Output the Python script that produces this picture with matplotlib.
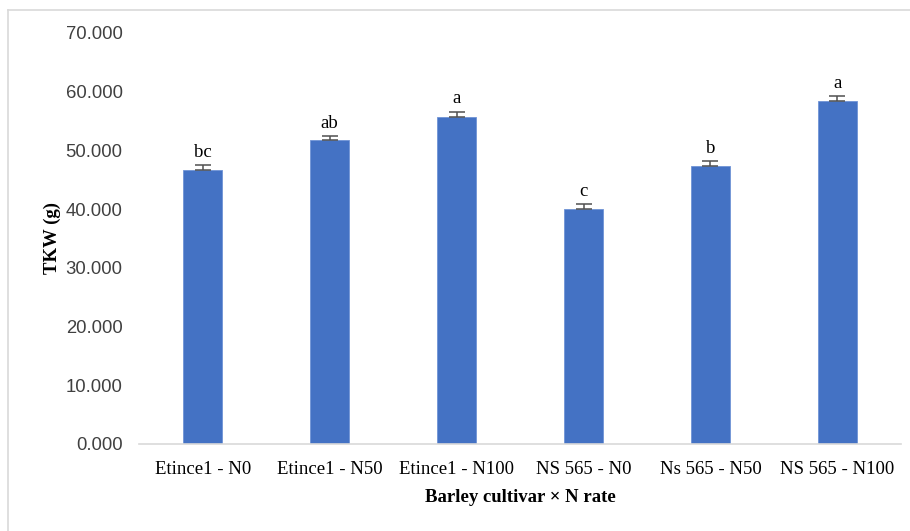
import matplotlib
matplotlib.use("Agg")
import matplotlib.pyplot as plt
from matplotlib.lines import Line2D

categories = ["Etince1 - N0", "Etince1 - N50", "Etince1 - N100",
              "NS 565 - N0", "Ns 565 - N50", "NS 565 - N100"]
tkw = [46.6, 51.7, 55.7, 40.0, 47.4, 58.4]
tkw_err = [0.9, 0.7, 0.9, 0.8, 0.8, 0.9]
letters = ["bc", "ab", "a", "c", "b", "a"]
yticks = [0, 10, 20, 30, 40, 50, 60, 70]

fig = plt.figure(figsize=(9.1, 5.31), dpi=100)
ax = fig.add_axes([0.153, 0.164, 0.837, 0.774])

serif = "Liberation Serif"
x = list(range(len(categories)))
ax.bar(x, tkw, width=0.31, color="#4472C4", edgecolor="#6F93D6", linewidth=0.6, zorder=2)
ax.errorbar(x, tkw, yerr=[[0]*len(tkw), tkw_err], fmt="none", ecolor="#505050",
            elinewidth=1.1, capsize=5.5, capthick=1.1, zorder=3)
for xi, v, e, l in zip(x, tkw, tkw_err, letters):
    ax.text(xi, v + e + 0.7, l, ha="center", va="bottom", fontsize=13.5, family=serif)

ax.set_xlim(-0.5, len(categories) - 0.5)
ax.set_ylim(0, 70)
ax.set_yticks(yticks)
ax.set_yticklabels([f"{t:.3f}" for t in yticks], fontsize=13.3, family="Liberation Sans", color="#404040")
ax.set_xticks(x)
ax.set_xticklabels(categories, fontsize=13.5, family=serif)
ax.tick_params(axis="both", length=0)
ax.tick_params(axis="y", pad=12)
ax.tick_params(axis="x", pad=12)
for s in ["top", "right", "left"]:
    ax.spines[s].set_visible(False)
ax.spines["bottom"].set_color("#D9D9D9")
ax.spines["bottom"].set_linewidth(1.2)

ax.set_xlabel("Barley cultivar × N rate", fontsize=13.5, family=serif, fontweight="bold", labelpad=8)
ax.set_ylabel("TKW (g)", fontsize=13.5, family=serif, fontweight="bold", labelpad=3)

# chart border (left and top)
fig.add_artist(Line2D([0.0088, 0.0088], [0.0, 0.981], color="#D9D9D9", lw=1.2, transform=fig.transFigure))
fig.add_artist(Line2D([0.0088, 1.0], [0.981, 0.981], color="#D9D9D9", lw=1.2, transform=fig.transFigure))

fig.savefig("out.png", dpi=100)
